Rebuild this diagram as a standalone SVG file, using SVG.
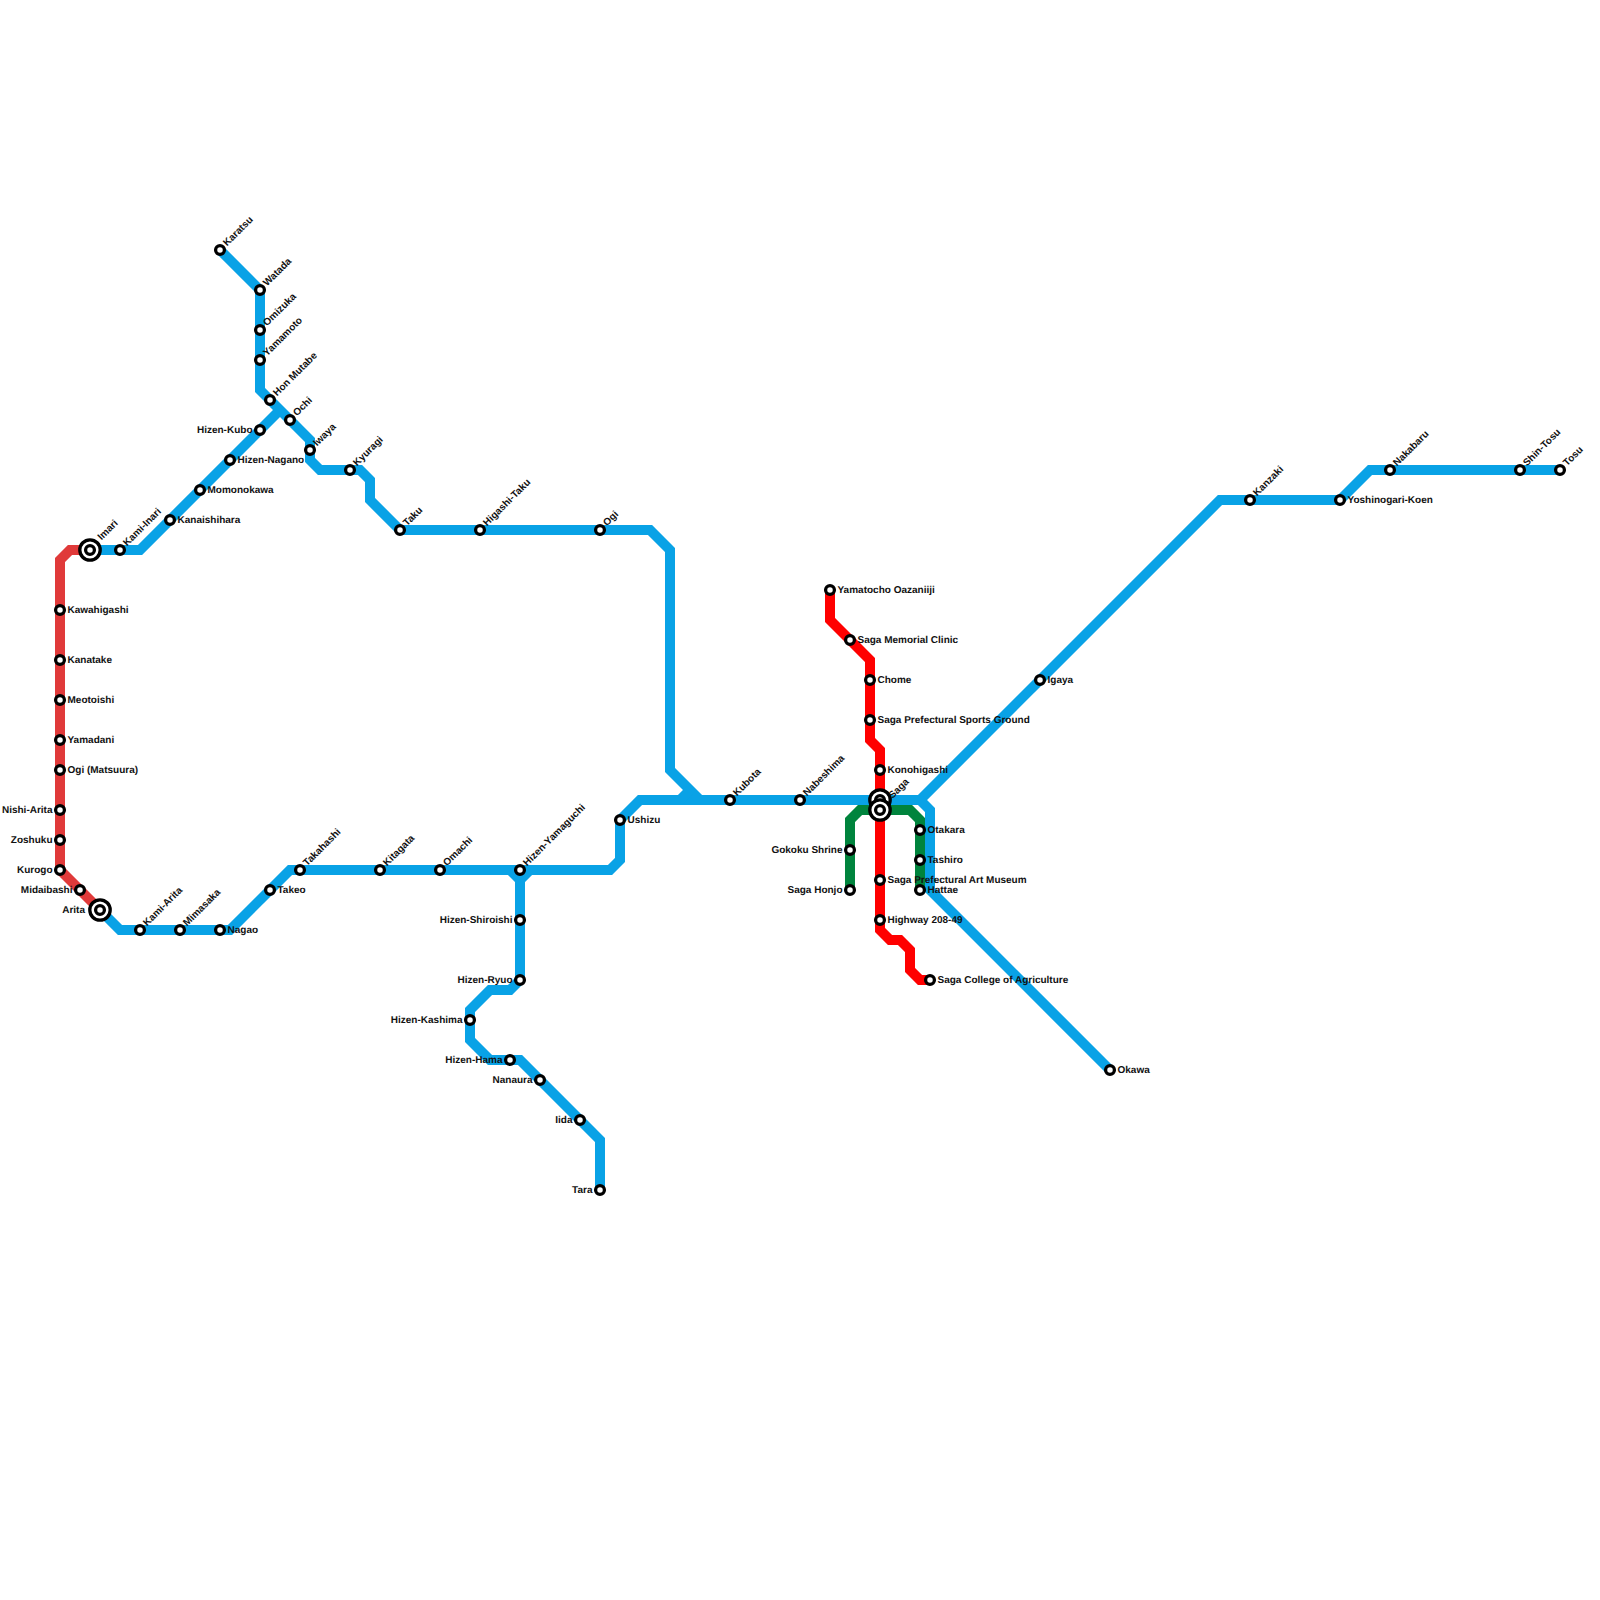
<svg xmlns="http://www.w3.org/2000/svg" width="1600" height="1600" viewBox="0 0 1600 1600">
<style>
.l{fill:none;stroke-width:10;stroke-linejoin:miter;stroke-linecap:butt}
.b{stroke:#09a2e6}.r{stroke:#ff0000}.d{stroke:#e03a3a}.g{stroke:#00843d}
.s{fill:#fff;stroke:#000;stroke-width:3.3}
text{font-family:"Liberation Sans",Arial,sans-serif;font-size:10px;font-weight:700;fill:#111;text-rendering:geometricPrecision}
.e{text-anchor:end}
</style>
<defs>
<circle id="st" class="s" r="4.4"/>
<g id="ix"><circle class="s" r="10.2"/><circle class="s" r="4.4"/></g>
</defs>
<rect width="1600" height="1600" fill="#fff"/>
<g id="connectors">
<path class="l b" d="M100 910L120 930H230L290 870H610L620 860V820L640 800H920L1220 500H1340L1370 470H1560"/>
<path class="l b" d="M90 550H140L280 410"/>
<path class="l b" d="M220 250L260 290V390L310 440V460L320 470H360L370 480V500L400 530H650L670 550V770L700 800"/>
<path class="l b" d="M680 800L690 790"/>
<path class="l b" d="M510 870L520 880V980L510 990H490L470 1010V1040L490 1060H520L600 1140V1190"/>
<path class="l b" d="M530 870L520 880"/>
<path class="l b" d="M920 800L930 810V890L1110 1070"/>
<path class="l d" d="M90 550H70L60 560V870L100 910"/>
<path class="l g" d="M850 890V820L860 810H910L920 820V890"/>
<path class="l r" d="M830 590V620L870 660V740L880 750V930L890 940H900L910 950V970L920 980H930"/>
</g>
<g id="n-karatsu"><use href="#st" x="220" y="250"/><text transform="translate(225 244.500) rotate(-45)" y="3">Karatsu</text></g>
<g id="n-watada"><use href="#st" x="260" y="290"/><text transform="translate(265 284.500) rotate(-45)" y="3">Watada</text></g>
<g id="n-omizuka"><use href="#st" x="260" y="330"/><text transform="translate(265 324.500) rotate(-45)" y="3">Omizuka</text></g>
<g id="n-yamamoto"><use href="#st" x="260" y="360"/><text transform="translate(265 354.500) rotate(-45)" y="3">Yamamoto</text></g>
<g id="n-honmutabe"><use href="#st" x="270" y="400"/><text transform="translate(275 394.500) rotate(-45)" y="3">Hon Mutabe</text></g>
<g id="n-ochi"><use href="#st" x="290" y="420"/><text transform="translate(295 414.500) rotate(-45)" y="3">Ochi</text></g>
<g id="n-iwaya"><use href="#st" x="310" y="450"/><text transform="translate(315 444.500) rotate(-45)" y="3">Iwaya</text></g>
<g id="n-kyuragi"><use href="#st" x="350" y="470"/><text transform="translate(355 464.500) rotate(-45)" y="3">Kyuragi</text></g>
<g id="n-taku"><use href="#st" x="400" y="530"/><text transform="translate(405 524.500) rotate(-45)" y="3">Taku</text></g>
<g id="n-higashitaku"><use href="#st" x="480" y="530"/><text transform="translate(485 524.500) rotate(-45)" y="3">Higashi-Taku</text></g>
<g id="n-ogi"><use href="#st" x="600" y="530"/><text transform="translate(605 524.500) rotate(-45)" y="3">Ogi</text></g>
<g id="n-hizenkubo"><use href="#st" x="260" y="430"/><text class="e" x="252.500" y="432.500">Hizen-Kubo</text></g>
<g id="n-hizennagano"><use href="#st" x="230" y="460"/><text x="237.500" y="462.500">Hizen-Nagano</text></g>
<g id="n-momonokawa"><use href="#st" x="200" y="490"/><text x="207.500" y="492.500">Momonokawa</text></g>
<g id="n-kanaishihara"><use href="#st" x="170" y="520"/><text x="177.500" y="522.500">Kanaishihara</text></g>
<g id="n-kamiinari"><use href="#st" x="120" y="550"/><text transform="translate(125 544.500) rotate(-45)" y="3">Kami-Inari</text></g>
<g id="n-imari"><use href="#ix" x="90" y="550"/><text transform="translate(99.500 538.500) rotate(-45)" y="3">Imari</text></g>
<g id="n-kawahigashi"><use href="#st" x="60" y="610"/><text x="67.500" y="612.500">Kawahigashi</text></g>
<g id="n-kanatake"><use href="#st" x="60" y="660"/><text x="67.500" y="662.500">Kanatake</text></g>
<g id="n-meotoishi"><use href="#st" x="60" y="700"/><text x="67.500" y="702.500">Meotoishi</text></g>
<g id="n-yamadani"><use href="#st" x="60" y="740"/><text x="67.500" y="742.500">Yamadani</text></g>
<g id="n-ogimatsuura"><use href="#st" x="60" y="770"/><text x="67.500" y="772.500">Ogi (Matsuura)</text></g>
<g id="n-nishiarita"><use href="#st" x="60" y="810"/><text class="e" x="52.500" y="812.500">Nishi-Arita</text></g>
<g id="n-zoshuku"><use href="#st" x="60" y="840"/><text class="e" x="52.500" y="842.500">Zoshuku</text></g>
<g id="n-kurogo"><use href="#st" x="60" y="870"/><text class="e" x="52.500" y="872.500">Kurogo</text></g>
<g id="n-midaibashi"><use href="#st" x="80" y="890"/><text class="e" x="72.500" y="892.500">Midaibashi</text></g>
<g id="n-arita"><use href="#ix" x="100" y="910"/><text class="e" x="85" y="912.500">Arita</text></g>
<g id="n-kamiarita"><use href="#st" x="140" y="930"/><text transform="translate(145 924.500) rotate(-45)" y="3">Kami-Arita</text></g>
<g id="n-mimasaka"><use href="#st" x="180" y="930"/><text transform="translate(185 924.500) rotate(-45)" y="3">Mimasaka</text></g>
<g id="n-nagao"><use href="#st" x="220" y="930"/><text x="227.500" y="932.500">Nagao</text></g>
<g id="n-takeo"><use href="#st" x="270" y="890"/><text x="277.500" y="892.500">Takeo</text></g>
<g id="n-takahashi"><use href="#st" x="300" y="870"/><text transform="translate(305 864.500) rotate(-45)" y="3">Takahashi</text></g>
<g id="n-kitagata"><use href="#st" x="380" y="870"/><text transform="translate(385 864.500) rotate(-45)" y="3">Kitagata</text></g>
<g id="n-omachi"><use href="#st" x="440" y="870"/><text transform="translate(445 864.500) rotate(-45)" y="3">Omachi</text></g>
<g id="n-hizenyamaguchi"><use href="#st" x="520" y="870"/><text transform="translate(525 864.500) rotate(-45)" y="3">Hizen-Yamaguchi</text></g>
<g id="n-hizenshiroishi"><use href="#st" x="520" y="920"/><text class="e" x="512.500" y="922.500">Hizen-Shiroishi</text></g>
<g id="n-hizenryuo"><use href="#st" x="520" y="980"/><text class="e" x="512.500" y="982.500">Hizen-Ryuo</text></g>
<g id="n-hizenkashima"><use href="#st" x="470" y="1020"/><text class="e" x="462.500" y="1022.500">Hizen-Kashima</text></g>
<g id="n-hizenhama"><use href="#st" x="510" y="1060"/><text class="e" x="502.500" y="1062.500">Hizen-Hama</text></g>
<g id="n-nanaura"><use href="#st" x="540" y="1080"/><text class="e" x="532.500" y="1082.500">Nanaura</text></g>
<g id="n-iida"><use href="#st" x="580" y="1120"/><text class="e" x="572.500" y="1122.500">Iida</text></g>
<g id="n-tara"><use href="#st" x="600" y="1190"/><text class="e" x="592.500" y="1192.500">Tara</text></g>
<g id="n-ushizu"><use href="#st" x="620" y="820"/><text x="627.500" y="822.500">Ushizu</text></g>
<g id="n-kubota"><use href="#st" x="730" y="800"/><text transform="translate(735 794.500) rotate(-45)" y="3">Kubota</text></g>
<g id="n-nabeshima"><use href="#st" x="800" y="800"/><text transform="translate(805 794.500) rotate(-45)" y="3">Nabeshima</text></g>
<g id="n-yamatocho"><use href="#st" x="830" y="590"/><text x="837.500" y="592.500">Yamatocho Oazaniiji</text></g>
<g id="n-sagamemorial"><use href="#st" x="850" y="640"/><text x="857.500" y="642.500">Saga Memorial Clinic</text></g>
<g id="n-chome"><use href="#st" x="870" y="680"/><text x="877.500" y="682.500">Chome</text></g>
<g id="n-sagasports"><use href="#st" x="870" y="720"/><text x="877.500" y="722.500">Saga Prefectural Sports Ground</text></g>
<g id="n-konohigashi"><use href="#st" x="880" y="770"/><text x="887.500" y="772.500">Konohigashi</text></g>
<g id="n-saga"><use href="#ix" x="880" y="800"/><use href="#ix" x="880" y="810"/><text transform="translate(890.500 797) rotate(-45)" y="3">Saga</text></g>
<g id="n-gokoku"><use href="#st" x="850" y="850"/><text class="e" x="842.500" y="852.500">Gokoku Shrine</text></g>
<g id="n-sagahonjo"><use href="#st" x="850" y="890"/><text class="e" x="842.500" y="892.500">Saga Honjo</text></g>
<g id="n-otakara"><use href="#st" x="920" y="830"/><text x="927.500" y="832.500">Otakara</text></g>
<g id="n-tashiro"><use href="#st" x="920" y="860"/><text x="927.500" y="862.500">Tashiro</text></g>
<g id="n-hattae"><use href="#st" x="920" y="890"/><text x="927.500" y="892.500">Hattae</text></g>
<g id="n-sagaart"><use href="#st" x="880" y="880"/><text x="887.500" y="882.500">Saga Prefectural Art Museum</text></g>
<g id="n-highway"><use href="#st" x="880" y="920"/><text x="887.500" y="922.500">Highway 208-49</text></g>
<g id="n-sagacollege"><use href="#st" x="930" y="980"/><text x="937.500" y="982.500">Saga College of Agriculture</text></g>
<g id="n-okawa"><use href="#st" x="1110" y="1070"/><text x="1117.500" y="1072.500">Okawa</text></g>
<g id="n-igaya"><use href="#st" x="1040" y="680"/><text x="1047.500" y="682.500">Igaya</text></g>
<g id="n-kanzaki"><use href="#st" x="1250" y="500"/><text transform="translate(1255 494.500) rotate(-45)" y="3">Kanzaki</text></g>
<g id="n-yoshinogari"><use href="#st" x="1340" y="500"/><text x="1347.500" y="502.500">Yoshinogari-Koen</text></g>
<g id="n-nakabaru"><use href="#st" x="1390" y="470"/><text transform="translate(1395 464.500) rotate(-45)" y="3">Nakabaru</text></g>
<g id="n-shintosu"><use href="#st" x="1520" y="470"/><text transform="translate(1525 464.500) rotate(-45)" y="3">Shin-Tosu</text></g>
<g id="n-tosu"><use href="#st" x="1560" y="470"/><text transform="translate(1565 464.500) rotate(-45)" y="3">Tosu</text></g>
</svg>
